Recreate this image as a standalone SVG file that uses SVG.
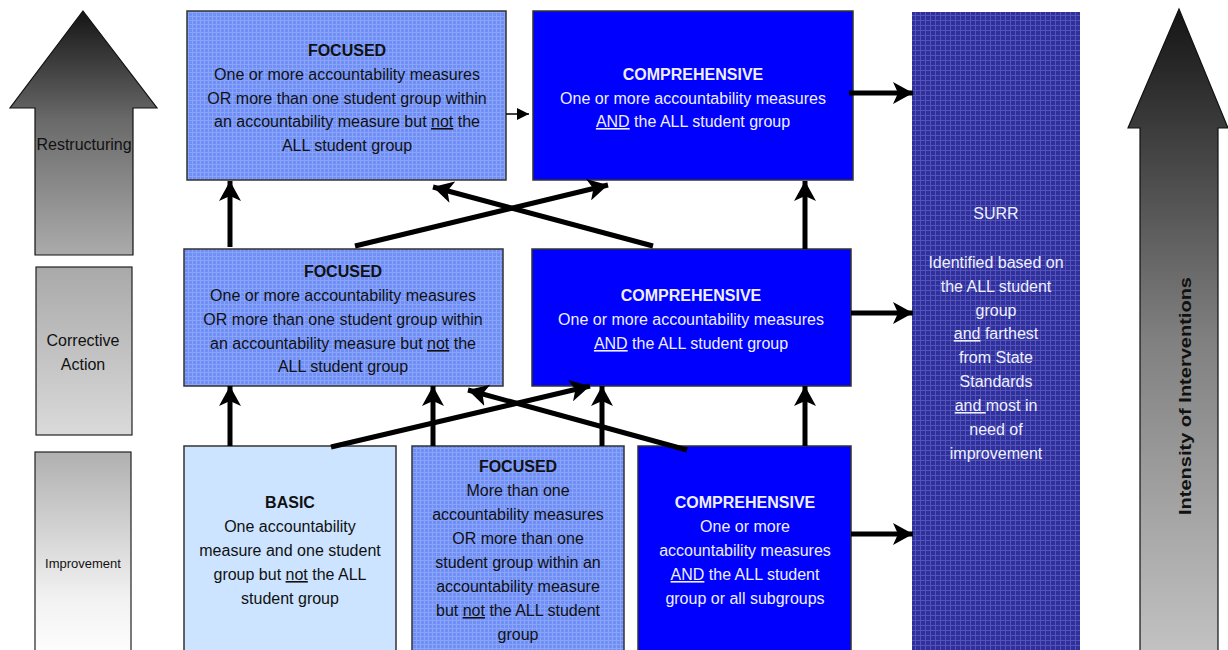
<svg xmlns="http://www.w3.org/2000/svg" width="1228" height="650" viewBox="0 0 1228 650">
<defs>
<linearGradient id="gRestr" x1="0" y1="0" x2="0" y2="1"><stop offset="0" stop-color="#151515"/><stop offset="0.45" stop-color="#6a6a6a"/><stop offset="1" stop-color="#ababab"/></linearGradient>
<linearGradient id="gCorr" x1="0" y1="0" x2="0" y2="1"><stop offset="0" stop-color="#a9a9a9"/><stop offset="1" stop-color="#dadada"/></linearGradient>
<linearGradient id="gImpr" x1="0" y1="0" x2="0" y2="1"><stop offset="0" stop-color="#b0b0b0"/><stop offset="0.7" stop-color="#f2f2f2"/><stop offset="1" stop-color="#ffffff"/></linearGradient>
<linearGradient id="gInt" x1="0" y1="0" x2="0" y2="1"><stop offset="0" stop-color="#151515"/><stop offset="0.5" stop-color="#7f7f7f"/><stop offset="1" stop-color="#c4c4c4"/></linearGradient>
<pattern id="pFoc" width="4" height="4" patternUnits="userSpaceOnUse"><rect width="4" height="4" fill="#6f8ff6"/><path d="M0 0.5H4M0.5 0V4" stroke="#8aa4f8" stroke-width="1"/></pattern>
<pattern id="pSurr" width="5" height="5" patternUnits="userSpaceOnUse"><rect width="5" height="5" fill="#30309a"/><path d="M0 0.5H5M0.5 0V5" stroke="#5353bb" stroke-width="1"/></pattern>
<marker id="ah" markerUnits="userSpaceOnUse" markerWidth="24" markerHeight="22" refX="20" refY="11" orient="auto"><path d="M0 0L20 11L0 22L5 11Z" fill="#000"/></marker>
<marker id="ahs" markerUnits="userSpaceOnUse" markerWidth="14" markerHeight="12" refX="12" refY="6" orient="auto"><path d="M0 0L12 6L0 12Z" fill="#000"/></marker>
</defs>
<style>
.box{stroke:#333;stroke-width:1.5}
.t{font-family:"Liberation Sans",Arial,sans-serif;font-size:16px;text-anchor:middle;fill:#111}
.w{fill:#eef0ff}
.b{font-weight:bold}
.u{text-decoration:underline}
.c{stroke:#000;stroke-width:5;fill:none;marker-end:url(#ah)}
</style>

<g id="restructuring">
<path d="M83 11L157 108H133V255H35V108H10Z" fill="url(#gRestr)" stroke="#111" stroke-width="1.2"/>
<text class="t" x="84" y="150">Restructuring</text>
</g>
<g id="corrective-action">
<rect x="36" y="267" width="96" height="168" fill="url(#gCorr)" stroke="#222" stroke-width="1.2"/>
<text class="t" x="83" y="346">Corrective</text>
<text class="t" x="83" y="370">Action</text>
</g>
<g id="improvement">
<rect x="35" y="452" width="96" height="210" fill="url(#gImpr)" stroke="#222" stroke-width="1.2"/>
<text class="t" x="83" y="568" style="font-size:13px">Improvement</text>
</g>
<g id="intensity">
<path d="M1179 9L1228 128H1218V662H1140V128H1128Z" fill="url(#gInt)" stroke="#111" stroke-width="1.2"/>
<text class="t b" transform="translate(1191 396) rotate(-90)" style="font-size:17px" textLength="238" lengthAdjust="spacingAndGlyphs">Intensity of Interventions</text>
</g>

<g id="surr">
<rect x="912" y="12" width="168" height="650" fill="url(#pSurr)"/>
<g class="t w">
<text x="996" y="219">SURR</text>
<text x="996" y="268">Identified based on</text>
<text x="996" y="292">the ALL student</text>
<text x="996" y="316">group</text>
<text x="996" y="339"><tspan class="u">and</tspan> farthest</text>
<text x="996" y="363">from State</text>
<text x="996" y="387">Standards</text>
<text x="996" y="411"><tspan class="u">and </tspan>most in</text>
<text x="996" y="435">need of</text>
<text x="996" y="459">improvement</text>
</g>
</g>

<g id="focused-top">
<rect class="box" x="187" y="11" width="319" height="169" fill="url(#pFoc)"/>
<text class="t b" x="347" y="56">FOCUSED</text>
<text class="t" x="347" y="80">One or more accountability measures</text>
<text class="t" x="347" y="104">OR more than one student group within</text>
<text class="t" x="347" y="127">an accountability measure but <tspan class="u">not</tspan> the</text>
<text class="t" x="347" y="151">ALL student group</text>
</g>
<g id="comprehensive-top">
<rect class="box" x="533" y="11" width="320" height="169" fill="#0000ff"/>
<text class="t w b" x="693" y="80">COMPREHENSIVE</text>
<text class="t w" x="693" y="104">One or more accountability measures</text>
<text class="t w" x="693" y="127"><tspan class="u">AND</tspan> the ALL student group</text>
</g>
<g id="focused-mid">
<rect class="box" x="184" y="249" width="319" height="137" fill="url(#pFoc)"/>
<text class="t b" x="343" y="277">FOCUSED</text>
<text class="t" x="343" y="301">One or more accountability measures</text>
<text class="t" x="343" y="325">OR more than one student group within</text>
<text class="t" x="343" y="349">an accountability measure but <tspan class="u">not</tspan> the</text>
<text class="t" x="343" y="372">ALL student group</text>
</g>
<g id="comprehensive-mid">
<rect class="box" x="532" y="249" width="319" height="137" fill="#0000ff"/>
<text class="t w b" x="691" y="301">COMPREHENSIVE</text>
<text class="t w" x="691" y="325">One or more accountability measures</text>
<text class="t w" x="691" y="349"><tspan class="u">AND</tspan> the ALL student group</text>
</g>
<g id="basic">
<rect class="box" x="184" y="446" width="212" height="216" fill="#cce4ff"/>
<text class="t b" x="290" y="508">BASIC</text>
<text class="t" x="290" y="532">One accountability</text>
<text class="t" x="290" y="556">measure and one student</text>
<text class="t" x="290" y="580">group but <tspan class="u">not</tspan> the ALL</text>
<text class="t" x="290" y="604">student group</text>
</g>
<g id="focused-bottom">
<rect class="box" x="412" y="446" width="212" height="216" fill="url(#pFoc)"/>
<text class="t b" x="518" y="472">FOCUSED</text>
<text class="t" x="518" y="496">More than one</text>
<text class="t" x="518" y="520">accountability measures</text>
<text class="t" x="518" y="544">OR more than one</text>
<text class="t" x="518" y="568">student group within an</text>
<text class="t" x="518" y="592">accountability measure</text>
<text class="t" x="518" y="616">but <tspan class="u">not</tspan> the ALL student</text>
<text class="t" x="518" y="640">group</text>
</g>
<g id="comprehensive-bottom">
<rect class="box" x="638" y="446" width="213" height="216" fill="#0000ff"/>
<text class="t w b" x="745" y="508">COMPREHENSIVE</text>
<text class="t w" x="745" y="532">One or more</text>
<text class="t w" x="745" y="556">accountability measures</text>
<text class="t w" x="745" y="580"><tspan class="u">AND</tspan> the ALL student</text>
<text class="t w" x="745" y="604">group or all subgroups</text>
</g>

<g id="connectors">
<line x1="506" y1="114" x2="529" y2="114" stroke="#000" stroke-width="1.5" marker-end="url(#ahs)"/>
<line class="c" x1="849" y1="93" x2="913" y2="93"/>
<line class="c" x1="851" y1="313" x2="913" y2="313"/>
<line class="c" x1="851" y1="534" x2="913" y2="534"/>
<line class="c" x1="230" y1="247" x2="230" y2="181"/>
<line class="c" x1="805" y1="249" x2="805" y2="181"/>
<line class="c" x1="355" y1="246" x2="608" y2="185"/>
<line class="c" x1="653" y1="246" x2="433" y2="187"/>
<line class="c" x1="230" y1="446" x2="230" y2="386"/>
<line class="c" x1="433" y1="446" x2="433" y2="386"/>
<line class="c" x1="602" y1="446" x2="602" y2="386"/>
<line class="c" x1="805" y1="446" x2="805" y2="386"/>
<line class="c" x1="331" y1="447" x2="590" y2="386"/>
<line class="c" x1="687" y1="450" x2="468" y2="390"/>
</g>
</svg>
